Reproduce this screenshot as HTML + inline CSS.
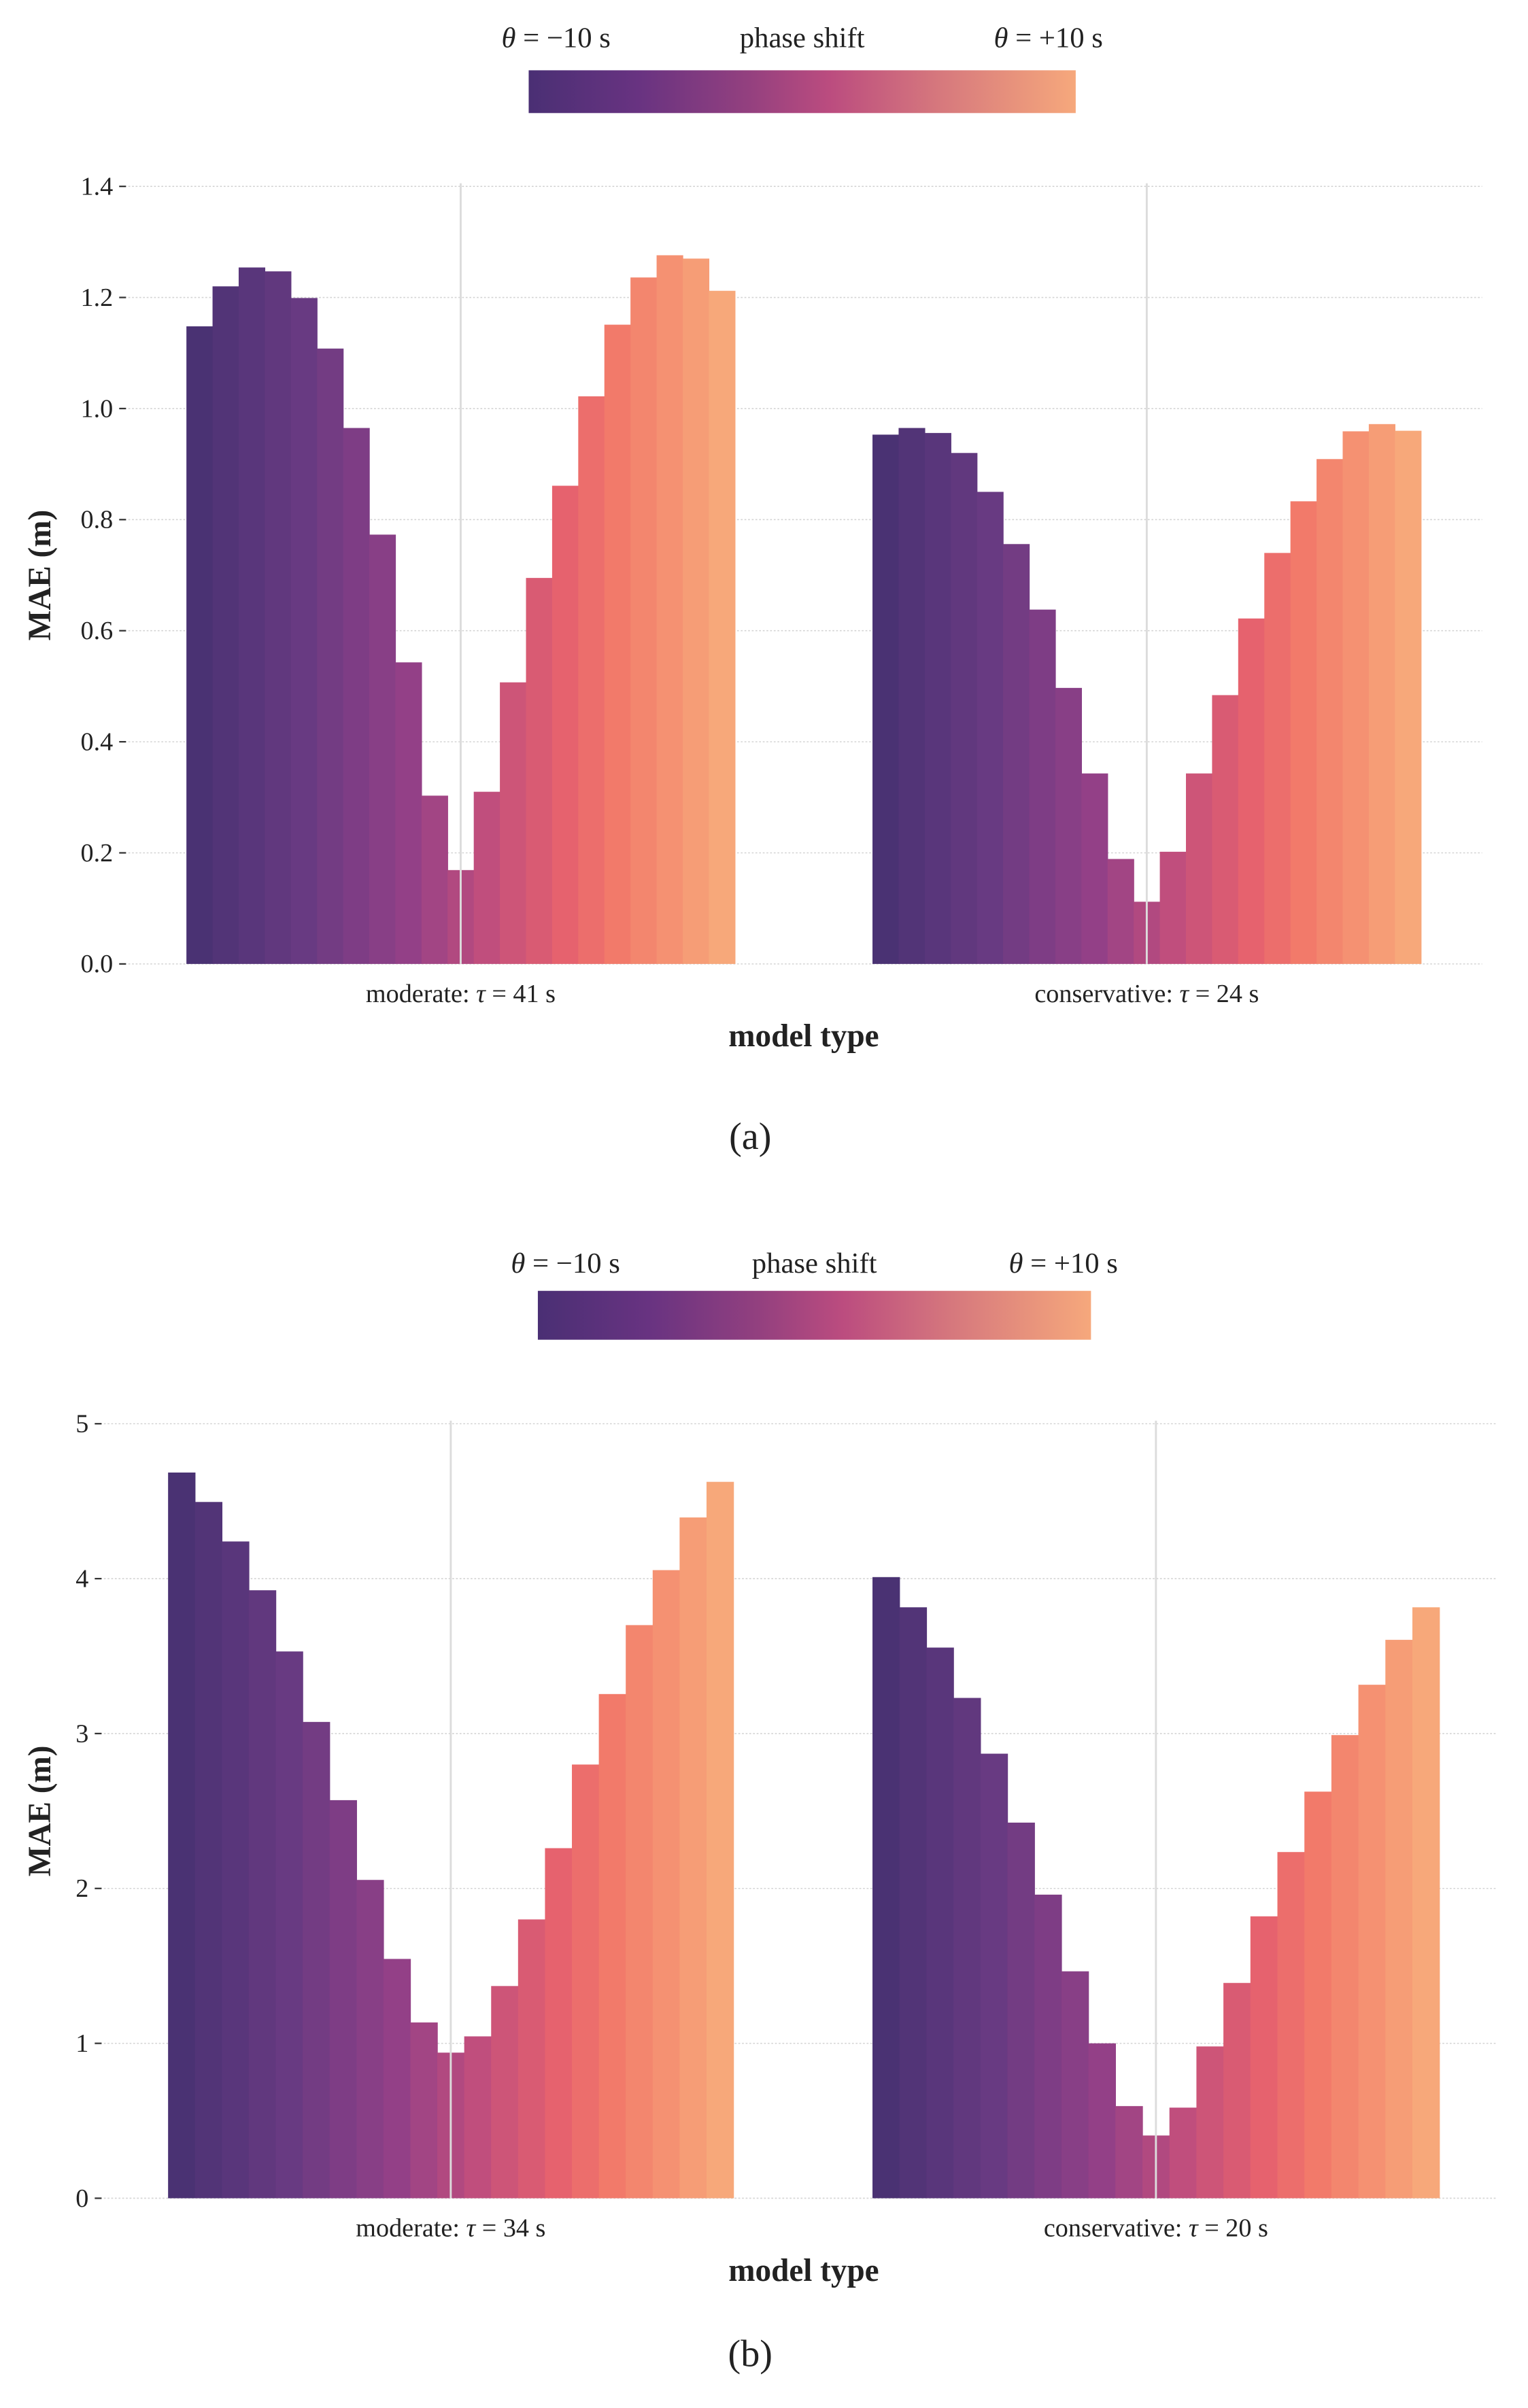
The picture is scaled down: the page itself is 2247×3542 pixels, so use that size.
<!DOCTYPE html>
<html><head><meta charset="utf-8"><style>
html,body{margin:0;padding:0;background:#fff}
svg{display:block}
text{font-family:"Liberation Serif",serif;fill:#222}
</style></head><body>
<svg id="fig" xmlns="http://www.w3.org/2000/svg" width="2247" height="3542" viewBox="0 0 1000 1576.3">
<defs>
<linearGradient id="cmap" x1="0" x2="1" y1="0" y2="0">
<stop offset="0" stop-color="#4a2f74"/><stop offset="0.2" stop-color="#683381"/><stop offset="0.4" stop-color="#93407f"/><stop offset="0.55" stop-color="#bb4c7f"/><stop offset="0.75" stop-color="#d6787d"/><stop offset="1" stop-color="#f6a87c"/>
</linearGradient>
</defs>
</svg>
<script>
const groupsA = ["moderate: |\u03c4| = 41 s", "conservative:  |\u03c4| = 24 s"];
const modA = [1.148,1.220,1.254,1.247,1.199,1.108,0.965,0.773,0.543,0.303,0.169,0.310,0.507,0.695,0.861,1.022,1.151,1.236,1.276,1.270,1.212];
const conA = [0.953,0.965,0.956,0.920,0.850,0.756,0.638,0.497,0.343,0.189,0.112,0.202,0.343,0.484,0.622,0.740,0.833,0.909,0.959,0.972,0.960];
const ticksA = ["0.0","0.2","0.4","0.6","0.8","1.0","1.2","1.4"];
const tickValsA = [0,0.2,0.4,0.6,0.8,1.0,1.2,1.4];
const groupsB = ["moderate: |\u03c4| = 34 s", "conservative:  |\u03c4| = 20 s"];
const modB = [4.685,4.495,4.24,3.925,3.53,3.075,2.57,2.055,1.545,1.135,0.94,1.045,1.37,1.80,2.26,2.80,3.255,3.70,4.055,4.395,4.625];
const conB = [4.01,3.815,3.555,3.23,2.87,2.425,1.96,1.465,1.0,0.595,0.405,0.585,0.98,1.39,1.82,2.235,2.625,2.99,3.315,3.605,3.815];
const ticksB = ["0","1","2","3","4","5"];
const tickValsB = [0,1,2,3,4,5];

const NS="http://www.w3.org/2000/svg";
const svg=document.getElementById('fig');
const stops=[[0,[74,50,115]],[0.2,[104,58,130]],[0.4,[147,64,135]],[0.55,[192,78,125]],[0.7,[230,98,110]],[0.8,[242,122,106]],[1,[247,168,122]]];
function cmap(t){for(let i=1;i<stops.length;i++){if(t<=stops[i][0]){const a=stops[i-1],b=stops[i];const f=(t-a[0])/(b[0]-a[0]);return 'rgb('+a[1].map((v,k)=>Math.round(v+(b[1][k]-v)*f)).join(',')+')';}}return 'rgb(247,168,122)';}
function el(tag,attrs,parent){const e=document.createElementNS(NS,tag);for(const k in attrs)e.setAttribute(k,attrs[k]);(parent||svg).appendChild(e);return e;}
// text with segments separated by '|': odd segments italic
function txt(s,x,y,attrs,parent){const e=el('text',Object.assign({x:x,y:y},attrs),parent);
  s.split('|').forEach((seg,i)=>{const t=document.createElementNS(NS,'tspan');t.textContent=seg;if(i%2)t.setAttribute('font-style','italic');e.appendChild(t);});return e;}

function panel(p){
  const g=el('g',{});
  
  
  const cb=el('rect',{x:p.cb[0],y:p.cb[1],width:p.cb[2]-p.cb[0],height:p.cb[3]-p.cb[1],fill:'url(#cmap)'},g);
  
  
  const l1=txt('|\u03b8| = \u221210 s',p.cb[0]+(p.cb[2]-p.cb[0])*0.05,p.cbLabelY,{'font-size':19,'text-anchor':'middle'},g);
  
  
  const l2=txt('phase shift',(p.cb[0]+p.cb[2])/2,p.cbLabelY,{'font-size':19,'text-anchor':'middle'},g);
  
  
  const l3=txt('|\u03b8| = +10 s',p.cb[2]-(p.cb[2]-p.cb[0])*0.05,p.cbLabelY,{'font-size':19,'text-anchor':'middle'},g);
  
  
  const ymax=p.tickVals[p.tickVals.length-1];
  const y=v=>p.y0-(v/ymax)*(p.y0-p.ytop);
  p.tickVals.forEach((v,i)=>{
    const gl=el('line',{x1:p.gx[0],x2:p.gx[1],y1:y(v),y2:y(v),stroke:'#d4d4d4','stroke-width':0.7,'stroke-dasharray':'1.2,1.2'},g);
    
    
    const tk=el('line',{x1:p.gx[0]-6,x2:p.gx[0]-1.5,y1:y(v),y2:y(v),stroke:'#333','stroke-width':1},g);
    
    
    const tl=txt(p.ticks[i],p.gx[0]-10,y(v)+5.5,{'font-size':17,'text-anchor':'end'},g);
    
    
  });
  [p.mod,p.con].forEach((vals,gi)=>{
    const x0=p.gxs[gi][0],x1=p.gxs[gi][1];
    const bw=(x1-x0)/vals.length;
    vals.forEach((v,i)=>{
      const r=el('rect',{x:x0+i*bw,y:y(v),width:bw+0.3,height:y(0)-y(v),fill:cmap(i/(vals.length-1))},g);
      
      
    });
    const cx=x0+bw*(vals.length-1)/2+bw/2;
    const ln=el('line',{x1:cx,x2:cx,y1:p.ytop-2,y2:y(0),stroke:'#dcdcdc','stroke-width':1.3},g);
    
    
    const gl=txt(p.groups[gi],(x0+x1)/2,p.glabelY,{'font-size':17,'text-anchor':'middle'},g);
    
    
  });
  const xt=txt('model type',526,p.xtitleY,{'font-size':21,'font-weight':'bold','text-anchor':'middle'},g);
  
  
  const cy=(p.y0+p.ytop)/2;
  const yt=txt('MAE (m)',0,0,{'font-size':21,'font-weight':'bold','text-anchor':'middle','transform':'translate(33,'+cy+') rotate(-90)'},g);
  
  
  const pl=txt(p.label,491,p.labelY,{'font-size':25,'text-anchor':'middle'},g);
  
  
}
panel({name:'panel-a',cb:[346,46,704,74],cbLabelY:31,ytop:122,y0:631,gx:[84,970],gxs:[[122,481],[571,930]],
  ticks:ticksA,tickVals:tickValsA,mod:modA,con:conA,groups:groupsA,glabelY:656,xtitleY:685,label:'(a)',labelY:752});
panel({name:'panel-b',cb:[352,845,714,877],cbLabelY:833,ytop:932,y0:1439,gx:[68,980],gxs:[[110,480],[571,942]],
  ticks:ticksB,tickVals:tickValsB,mod:modB,con:conB,groups:groupsB,glabelY:1464,xtitleY:1493,label:'(b)',labelY:1549});
</script>
</body></html>
